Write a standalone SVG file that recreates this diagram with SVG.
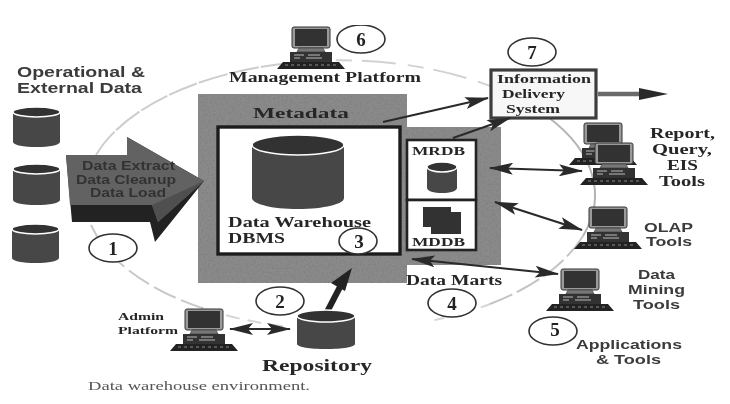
<svg xmlns="http://www.w3.org/2000/svg" width="730" height="404" viewBox="0 0 730 404">
<style>
text{font-family:"Liberation Serif","Times New Roman",serif;font-weight:bold;fill:#262626}
.s{font-family:"Liberation Sans",Arial,sans-serif;fill:#3a3a3a}
.n{font-size:19px;text-anchor:middle;fill:#222}
.o{fill:#fff;stroke:#303030;stroke-width:1.6}
.l{fill:none;stroke:#2a2a2a;stroke-width:2.2}
.cb{fill:#474747}
.ct{fill:#333;stroke:#fff;stroke-width:1.5}
.r{fill:none;stroke-width:2}
</style>
<defs>
<filter id="soft" x="0" y="0" width="100%" height="100%"><feGaussianBlur stdDeviation="0.45"/></filter>
<filter id="grain" x="0" y="0" width="100%" height="100%">
<feTurbulence type="fractalNoise" baseFrequency="0.5" numOctaves="2" seed="4"/>
<feColorMatrix values="0 0 0 0 0.22  0 0 0 0 0.22  0 0 0 0 0.22  2.2 2.2 0 0 -2"/>
<feComposite in2="SourceGraphic" operator="in" result="n"/>
<feMerge><feMergeNode in="SourceGraphic"/><feMergeNode in="n"/></feMerge>
</filter>
<marker id="ah" viewBox="0 0 24 12" refX="23" refY="6" markerWidth="24" markerHeight="12" markerUnits="userSpaceOnUse" orient="auto-start-reverse"><path d="M0 0L24 6L0 12L5 6Z" fill="#2a2a2a"/></marker>
<g id="pc">
<rect x="-19" y="0" width="38" height="21" rx="2" fill="#9a9a9a" stroke="#333"/>
<rect x="-16" y="2" width="32" height="17" fill="#303030"/>
<path d="M-12 21H12L14 25H-14Z" fill="#777" stroke="#333" stroke-width=".6"/>
<rect x="-21" y="25" width="42" height="10" fill="#333"/>
<path d="M-17 28h10M-3 28h12M-17 31h6M-5 31h16" stroke="#bbb" stroke-width="1.1"/>
<path d="M-28 35H28L34 42H-34Z" fill="#222"/>
<path d="M-26 38H26" stroke="#999" stroke-width=".9" stroke-dasharray="3 3"/>
</g>
</defs>
<rect width="730" height="404" fill="#fff"/>
<g filter="url(#soft)">
<g id="ring">
<path class="r" d="M96 155A255 135 0 0 1 290 63" stroke="#cdcdcd" stroke-dasharray="30 2"/>
<path class="r" d="M290 63A255 135 0 0 1 490 86" stroke="#d2d2d2" stroke-dasharray="34 12 16 10"/>
<path class="r" d="M548 117A255 135 0 0 1 583 236" stroke="#b4b4b4" stroke-width="2.600"/>
<path class="r" d="M583 236A255 135 0 0 1 490 304" stroke="#c4c4c4" stroke-dasharray="26 5"/>
<path class="r" d="M490 304A255 135 0 0 1 430 321" stroke="#d6d6d6" stroke-dasharray="10 14"/>
<path class="r" d="M91 225A255 135 0 0 0 205 309" stroke="#c8c8c8" stroke-dasharray="24 6"/>
<path class="r" d="M205 309A255 135 0 0 0 290 327" stroke="#d6d6d6" stroke-dasharray="14 8"/>
</g>

<g id="metadata">
<path d="M198 94H407V127H501V265H407V283H198Z" fill="#8a8a8a" filter="url(#grain)"/>
<text x="253" y="118" font-size="15" textLength="96" lengthAdjust="spacingAndGlyphs">Metadata</text>
</g>

<g id="warehouse">
<rect x="218" y="127" width="182" height="127" fill="#fff" stroke="#1e1e1e" stroke-width="3.400"/>
<path d="M252 146V198C252 204 272 209 298 209S344 204 344 198V146Z" class="cb"/>
<ellipse cx="298" cy="145" rx="46" ry="10" class="ct"/>
<text x="228" y="227" font-size="14" textLength="143" lengthAdjust="spacingAndGlyphs">Data Warehouse</text>
<text x="228" y="243" font-size="14" textLength="57" lengthAdjust="spacingAndGlyphs">DBMS</text>
<ellipse cx="358" cy="241" rx="19" ry="13" class="o"/>
<text x="359" y="248" class="n">3</text>
</g>

<g id="mrdb">
<rect x="407" y="140" width="69" height="60" fill="#fff" stroke="#222" stroke-width="2.600"/>
<text x="412" y="155" font-size="12" textLength="53" lengthAdjust="spacingAndGlyphs">MRDB</text>
<path d="M427 168V188C427 191 434 193 442 193S457 191 457 188V168Z" class="cb"/>
<ellipse cx="442" cy="167" rx="15" ry="5" class="ct"/>
</g>

<g id="mddb">
<rect x="407" y="200" width="69" height="50" fill="#fff" stroke="#222" stroke-width="2.600"/>
<rect x="423" y="207" width="28" height="20" fill="#333"/>
<rect x="431" y="212" width="30" height="22" fill="#333"/>
<text x="412" y="246" font-size="12" textLength="53" lengthAdjust="spacingAndGlyphs">MDDB</text>
</g>

<g id="sources">
<text x="17" y="77" class="s" font-size="15" textLength="128" lengthAdjust="spacingAndGlyphs">Operational &amp;</text>
<text x="17" y="93" class="s" font-size="15" textLength="125" lengthAdjust="spacingAndGlyphs">External Data</text>
<g id="cyl1"><path d="M13 113V142C13 145 24 147 36.500 147S60 145 60 142V113Z" class="cb"/><ellipse cx="36.500" cy="112" rx="23.500" ry="5" class="ct"/></g>
<g id="cyl2"><path d="M13 170V200C13 203 24 205 36.500 205S60 203 60 200V170Z" class="cb"/><ellipse cx="36.500" cy="169" rx="23.500" ry="5" class="ct"/></g>
<g id="cyl3"><path d="M12 230V258C12 261 23 263 35.500 263S59 261 59 258V230Z" class="cb"/><ellipse cx="35.500" cy="229" rx="23.500" ry="5" class="ct"/></g>
</g>

<g id="etl">
<path d="M66 155H127V137L204 181L155 242L150 222H72Z" fill="#232323"/>
<path d="M66 155H127V137L204 181L158 222L152 205H70Z" fill="#626262"/>
<path d="M204 181L152 205L158 222Z" fill="#505050"/>
<text x="82" y="170" class="s" font-size="12" textLength="93" lengthAdjust="spacingAndGlyphs" style="fill:#333">Data Extract</text>
<text x="76" y="184" class="s" font-size="12" textLength="100" lengthAdjust="spacingAndGlyphs" style="fill:#333">Data Cleanup</text>
<text x="90" y="197" class="s" font-size="12" textLength="76" lengthAdjust="spacingAndGlyphs" style="fill:#333">Data Load</text>
</g>

<g id="n1"><ellipse cx="113" cy="248" rx="24" ry="14" class="o"/><text x="113" y="255" class="n">1</text></g>
<g id="n2"><ellipse cx="280" cy="301" rx="24" ry="14" class="o"/><text x="280" y="308" class="n">2</text></g>
<g id="n4"><ellipse cx="452" cy="303" rx="24" ry="14" class="o"/><text x="452" y="310" class="n">4</text></g>
<g id="n5"><ellipse cx="553" cy="331" rx="24" ry="14" class="o"/><text x="555" y="336" class="n">5</text></g>

<g id="management">
<use href="#pc" x="311" y="27"/>
<text x="229" y="82" font-size="15" textLength="192" lengthAdjust="spacingAndGlyphs">Management Platform</text>
<ellipse cx="361" cy="39" rx="24" ry="14" class="o"/><text x="361" y="46" class="n">6</text>
</g>

<g id="delivery">
<ellipse cx="532" cy="52" rx="24" ry="14" class="o"/><text x="532" y="59" class="n">7</text>
<rect x="491" y="70" width="105" height="48" fill="#f7f7f7" stroke="#3c3c3c" stroke-width="3.200"/>
<text x="497" y="83" font-size="12.500" textLength="94" lengthAdjust="spacingAndGlyphs">Information</text>
<text x="502" y="98" font-size="13" textLength="63" lengthAdjust="spacingAndGlyphs">Delivery</text>
<text x="506" y="113" font-size="13" textLength="54" lengthAdjust="spacingAndGlyphs">System</text>
</g>

<g id="connectors">
<path d="M598 94H640" stroke="#6a6a6a" stroke-width="4.500" fill="none"/>
<path d="M639 88L668 94L639 100Z" fill="#2a2a2a"/>
<path d="M383 122L488 98" class="l" marker-end="url(#ah)"/>
<path d="M453 138L510 118" class="l" marker-end="url(#ah)"/>
<path d="M230 329H290" class="l" marker-start="url(#ah)" marker-end="url(#ah)"/>
<path d="M490 168L582 171" class="l" marker-start="url(#ah)" marker-end="url(#ah)"/>
<path d="M495 202L582 230" class="l" marker-start="url(#ah)" marker-end="url(#ah)"/>
<path d="M412 259L558 274" class="l" marker-start="url(#ah)" marker-end="url(#ah)"/>
<path d="M327 312L341 285" stroke="#222" stroke-width="6" fill="none"/>
<path d="M352 268L345 291L331 283Z" fill="#222"/>
</g>

<g id="repository">
<path d="M297 317V344C297 347 310 349 326 349S355 347 355 344V317Z" class="cb"/>
<ellipse cx="326" cy="316" rx="29" ry="6" class="ct"/>
<text x="262" y="371" font-size="16" textLength="110" lengthAdjust="spacingAndGlyphs">Repository</text>
</g>

<g id="admin">
<use href="#pc" x="204" y="309"/>
<text x="118" y="320" font-size="11" textLength="46" lengthAdjust="spacingAndGlyphs">Admin</text>
<text x="118" y="334" font-size="11" textLength="60" lengthAdjust="spacingAndGlyphs">Platform</text>
</g>

<g id="report">
<use href="#pc" x="603" y="123"/>
<use href="#pc" x="614" y="143"/>
<text x="650" y="138" font-size="14" textLength="65" lengthAdjust="spacingAndGlyphs">Report,</text>
<text x="652" y="154" font-size="14" textLength="60" lengthAdjust="spacingAndGlyphs">Query,</text>
<text x="667" y="170" font-size="14" textLength="31" lengthAdjust="spacingAndGlyphs">EIS</text>
<text x="659" y="186" font-size="14" textLength="46" lengthAdjust="spacingAndGlyphs">Tools</text>
</g>

<g id="olap">
<use href="#pc" x="608" y="207"/>
<text x="644" y="232" class="s" font-size="13" textLength="49" lengthAdjust="spacingAndGlyphs">OLAP</text>
<text x="646" y="246" class="s" font-size="13" textLength="46" lengthAdjust="spacingAndGlyphs">Tools</text>
</g>

<g id="mining">
<use href="#pc" x="580" y="269"/>
<text x="638" y="279" class="s" font-size="13" textLength="37" lengthAdjust="spacingAndGlyphs">Data</text>
<text x="628" y="294" class="s" font-size="13" textLength="57" lengthAdjust="spacingAndGlyphs">Mining</text>
<text x="633" y="309" class="s" font-size="13" textLength="47" lengthAdjust="spacingAndGlyphs">Tools</text>
</g>

<text x="576" y="349" class="s" font-size="13" textLength="106" lengthAdjust="spacingAndGlyphs">Applications</text>
<text x="596" y="364" class="s" font-size="13" textLength="65" lengthAdjust="spacingAndGlyphs">&amp; Tools</text>
<text x="406" y="285" font-size="14" textLength="96" lengthAdjust="spacingAndGlyphs">Data Marts</text>
<text x="88" y="390" font-size="11.500" textLength="222" lengthAdjust="spacingAndGlyphs" style="font-weight:normal;fill:#555">Data warehouse environment.</text>
</g>
</svg>
